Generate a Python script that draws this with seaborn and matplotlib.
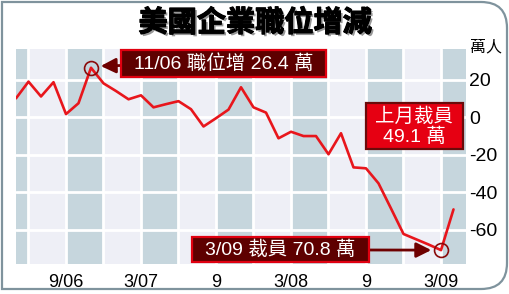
import numpy as np
import pandas as pd
import matplotlib
matplotlib.use("Agg")
import matplotlib.pyplot as plt
import matplotlib.patheffects as pe
from matplotlib.patches import Rectangle, PathPatch
from matplotlib.path import Path
import seaborn as sns

# ---------------- data ----------------
months = list(pd.period_range("2006-05", "2009-04", freq="M").strftime("%Y-%m"))
jobs = [10.1, 19.0, 11.1, 18.7, 1.7, 7.5, 26.4, 18.1, 14.0, 9.6, 11.7, 5.3,
        7.0, 8.6, 4.3, -4.9, -0.5, 4.1, 16.0, 5.3, 2.5, -11.2, -7.7, -10.0,
        -10.0, -19.7, -8.5, -26.7, -27.2, -35.2, -48.6, -62.2, -65.0, -67.8,
        -70.8, -49.1]
tick_months = ["2006-09", "2007-03", "2007-09", "2008-03", "2008-09", "2009-03"]
tick_labels = ["9/06", "3/07", "9", "3/08", "9", "3/09"]
y_ticks = [20, 0, -20, -40, -60]
peak_month = "2006-11"
peak_label = "11/06 職位增 26.4 萬"
low_month = "2009-03"
low_label = "3/09 裁員 70.8 萬"
last_label = ["上月裁員", "49.1 萬"]
title = "美國企業職位增減"
unit = "萬人"

df = pd.DataFrame({"month": months, "jobs": jobs})
df["idx"] = np.arange(len(df))
pos = {m: i for i, m in enumerate(months)}

# ---------------- style ----------------
sns.set_style("white")
plt.rcParams["font.family"] = ["Liberation Sans", "Noto Sans CJK TC"]
plt.rcParams["axes.unicode_minus"] = False

W, H = 510, 294
fig = plt.figure(figsize=(W / 100, H / 100), dpi=100)
fig.patch.set_facecolor("white")

def fx(x):
    return x / W

def fy(y):
    return 1 - y / H

ax = fig.add_axes([fx(16), fy(264), (466 - 16) / W, (264 - 49) / H])
ax.set_facecolor("#eeeff6")

# quarter bands
band_dark = "#c6d6dd"
for start in range(-2, 37, 6):
    ax.axvspan(start, start + 3, color=band_dark, lw=0, zorder=0.2)

sns.lineplot(data=df, x="idx", y="jobs", ax=ax, color="#e8161c", lw=1.9,
             zorder=3, legend=False)

ax.set_xlim(0, 36)
ax.set_ylim(-78.2, 36.4)
ax.set_yticks(y_ticks)
ax.set_xticks([pos[m] for m in tick_months])
ax.set_xticklabels(tick_labels)
ax.set_xticks(np.arange(1, 36, 3), minor=True)
ax.yaxis.tick_right()
ax.tick_params(axis="y", length=0, pad=2, labelsize=14, colors="black")
ax.tick_params(axis="x", which="both", length=0, pad=7, labelsize=13, colors="black")
ax.set_axisbelow(True)
ax.grid(axis="y", color="white", lw=2)
ax.grid(axis="x", which="both", color="white", lw=2)
for s in ax.spines.values():
    s.set_visible(False)
ax.set_xlabel("")
ax.set_ylabel("")

# circles
dark_red = "#6e0000"
for m in (peak_month, low_month):
    ax.plot(pos[m], jobs[pos[m]], "o", mfc="none", mec="#8a0a0a", ms=10,
            mew=1.2, zorder=4)

# ---------------- annotation boxes ----------------
def box(x0, y0, x1, y1, fc, ec):
    r = Rectangle((fx(x0), fy(y1)), (x1 - x0) / W, (y1 - y0) / H,
                  transform=fig.transFigure, facecolor=fc, edgecolor=ec,
                  lw=1.6, zorder=5)
    fig.patches.append(r)

box(121, 50, 326, 77, "#5e0000", "#e00010")
fig.text(fx(223.5), fy(63.5), peak_label, color="white", fontsize=14,
         ha="center", va="center", zorder=6)

box(366, 103, 463, 149, "#e60012", "#6b0a0a")
fig.text(fx(414.5), fy(117), last_label[0], color="white", fontsize=14,
         ha="center", va="center", zorder=6)
fig.text(fx(414.5), fy(137), last_label[1], color="white", fontsize=14,
         ha="center", va="center", zorder=6)

box(192, 237, 369, 262, "#5e0000", "#e00010")
fig.text(fx(280.5), fy(249.5), low_label, color="white", fontsize=14,
         ha="center", va="center", zorder=6)

arrow_style = dict(arrowstyle="-|>,head_length=0.9,head_width=0.45",
                   color=dark_red, lw=2, shrinkA=0, shrinkB=7)
ax.annotate("", xy=(pos[peak_month], jobs[pos[peak_month]] + 0.8), xycoords="data",
            xytext=(121, H - 65.5), textcoords="figure pixels",
            arrowprops=arrow_style, zorder=5, annotation_clip=False)
ax.annotate("", xy=(pos[low_month], jobs[pos[low_month]]), xycoords="data",
            xytext=(369, H - 250), textcoords="figure pixels",
            arrowprops=arrow_style, zorder=5, annotation_clip=False)

# ---------------- title and unit ----------------
fig.text(fx(255), fy(22.5), title, ha="center", va="center", fontsize=21,
         fontweight="bold", family=["Noto Sans CJK TC"], color="black",
         path_effects=[pe.withSimplePatchShadow(offset=(1.5, -1.5),
                                                shadow_rgbFace="#8c8c8c", alpha=0.9),
                       pe.Stroke(linewidth=0.8, foreground="black"),
                       pe.Normal()])
fig.text(fx(486), fy(47), unit, ha="center", va="center", fontsize=11.5,
         family=["Noto Sans CJK TC"], color="black")

# ---------------- frame ----------------
L, T, R, B, rad = 2, 2, 507, 289, 26
verts = [(L, T), (R - rad, T), (R, T), (R, T + rad), (R, B - rad), (R, B),
         (R - rad, B), (L, B), (L, T)]
codes = [Path.MOVETO, Path.LINETO, Path.CURVE3, Path.CURVE3, Path.LINETO,
         Path.CURVE3, Path.CURVE3, Path.LINETO, Path.CLOSEPOLY]
verts_f = [(fx(x), fy(y)) for x, y in verts]
frame = PathPatch(Path(verts_f, codes), transform=fig.transFigure,
                  facecolor="none", edgecolor="#7f939d", lw=1.6, zorder=10)
fig.patches.append(frame)

fig.savefig("out.png", dpi=100)
